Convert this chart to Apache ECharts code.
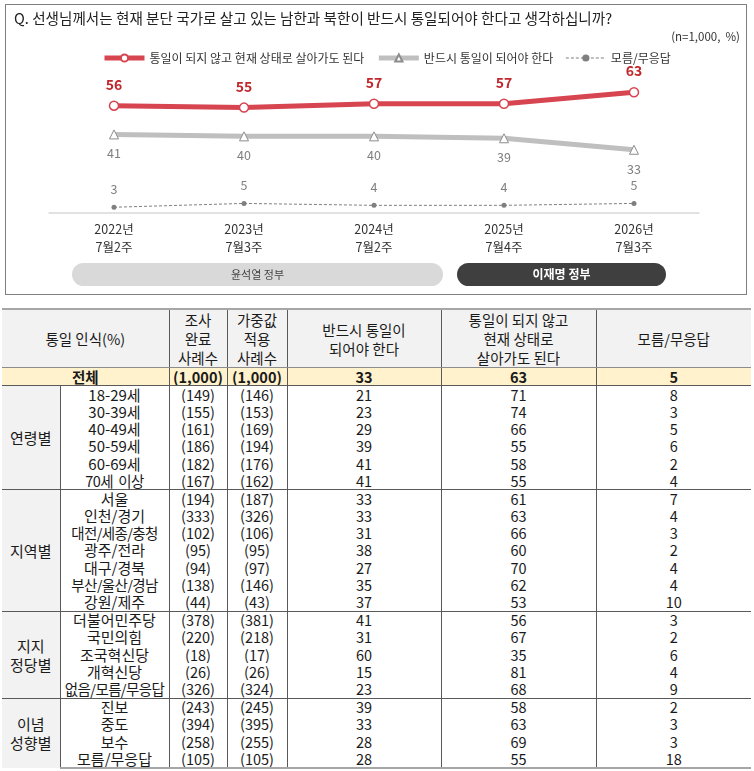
<!DOCTYPE html>
<html>
<head>
<meta charset="utf-8">
<script src="https://cdn.jsdelivr.net/npm/echarts@6/dist/echarts.min.js"></script>
<style>
html,body{margin:0;padding:0;background:#fff;}
body{width:754px;height:771px;position:relative;overflow:hidden;font-family:"Noto Sans CJK KR","Noto Sans",sans-serif;}
#box{position:absolute;left:5px;top:4px;width:742px;height:291px;border:1.5px solid #7f7f7f;box-sizing:border-box;}
#chart{position:absolute;left:0;top:0;width:754px;height:300px;}
#tbl{position:absolute;left:2px;top:308px;width:749px;border-collapse:collapse;table-layout:fixed;color:#1a1a1a;font-size:14.5px;}
#tbl td{padding:0;text-align:center;vertical-align:middle;white-space:nowrap;overflow:hidden;line-height:16px;height:17.2px;border-left:1px solid #595959;}
#tbl td.first{border-left:none;}
#tbl td.lbl{font-size:15px;}
#tbl td.lbl.tight{letter-spacing:-0.6px;font-size:14.5px;}
#tbl tr.head td{background:#f2f2f2;height:56px;line-height:19px;border-top:2px solid #a6a6a6;border-bottom:1px solid #8c8c8c;font-size:14.5px;}
#tbl tr.total td{background:#fff2cc;font-weight:bold;border-bottom:1px solid #595959;}
#tbl td.grp{background:#f2f2f2;line-height:19px;font-size:15px;}
#tbl tr.sep td{border-top:1px solid #595959;}
#tbl tr.last td{border-bottom:2px solid #a6a6a6;}
</style>
</head>
<body>
<div id="box"></div>
<div id="chart"></div>
<table id="tbl"><colgroup>
<col style="width:58px"><col style="width:109px"><col style="width:58px"><col style="width:60px"><col style="width:154px"><col style="width:155px"><col style="width:155px">
</colgroup><tbody id="tb"></tbody></table>
<script>
// ---- Trend chart data ----
const periods = ['2022년\n7월2주', '2023년\n7월3주', '2024년\n7월2주', '2025년\n7월4주', '2026년\n7월3주'];
const statusQuoTrend = [56, 55, 57, 57, 63];
const mustUnifyTrend = [41, 40, 40, 39, 33];
const dontKnowTrend = [3, 5, 4, 4, 5];
const seriesNames = ['통일이 되지 않고 현재 상태로 살아가도 된다', '반드시 통일이 되어야 한다', '모름/무응답'];
const governments = ['윤석열 정부', '이재명 정부'];

// ---- Table data ----
const headerLabels = ['통일 인식(%)', '조사<br>완료<br>사례수', '가중값<br>적용<br>사례수', '반드시 통일이<br>되어야 한다', '통일이 되지 않고<br>현재 상태로<br>살아가도 된다', '모름/무응답'];
const totalRow = ['전체', '(1,000)', '(1,000)', 33, 63, 5];
const groupNames = ['연령별', '지역별', '지지<br>정당별', '이념<br>성향별'];
const groupSizes = [6, 7, 5, 4];
const rowLabels = ['18-29세', '30-39세', '40-49세', '50-59세', '60-69세', '70세&nbsp;&nbsp;이상',
  '서울', '인천/경기', '대전/세종/충청', '광주/전라', '대구/경북', '부산/울산/경남', '강원/제주',
  '더불어민주당', '국민의힘', '조국혁신당', '개혁신당', '없음/모름/무응답',
  '진보', '중도', '보수', '모름/무응답'];
const completedN = [149, 155, 161, 186, 182, 167, 194, 333, 102, 95, 94, 138, 44, 378, 220, 18, 26, 326, 243, 394, 258, 105];
const weightedN = [146, 153, 169, 194, 176, 162, 187, 326, 106, 95, 97, 146, 43, 381, 218, 17, 26, 324, 245, 395, 255, 105];
const mustUnify = [21, 23, 29, 39, 41, 41, 33, 33, 31, 38, 27, 35, 37, 41, 31, 60, 15, 23, 39, 33, 28, 28];
const statusQuo = [71, 74, 66, 55, 58, 55, 61, 63, 66, 60, 70, 62, 53, 56, 67, 35, 81, 68, 58, 63, 69, 55];
const dontKnow = [8, 3, 5, 6, 2, 4, 7, 4, 3, 2, 4, 4, 10, 3, 2, 6, 4, 9, 2, 3, 3, 18];

// ---- Build table ----
(function(){
  let h = '<tr class="head"><td class="first" colspan="2">' + headerLabels[0] + '</td>';
  for (let i = 1; i < headerLabels.length; i++) h += '<td>' + headerLabels[i] + '</td>';
  h += '</tr>';
  h += '<tr class="total"><td class="first" colspan="2">' + totalRow[0] + '</td>';
  for (let i = 1; i < totalRow.length; i++) h += '<td>' + totalRow[i] + '</td>';
  h += '</tr>';
  let idx = 0;
  groupSizes.forEach((sz, g) => {
    for (let k = 0; k < sz; k++) {
      let cls = [];
      if (k === 0 && g > 0) cls.push('sep');
      if (g === groupSizes.length - 1 && k === sz - 1) cls.push('last');
      h += '<tr class="' + cls.join(' ') + '">';
      if (k === 0) h += '<td class="first grp" rowspan="' + sz + '">' + groupNames[g] + '</td>';
      const tight = rowLabels[idx].length > 7 ? ' tight' : '';
      h += '<td class="lbl' + tight + '">' + rowLabels[idx] + '</td>';
      h += '<td>(' + completedN[idx] + ')</td>';
      h += '<td>(' + weightedN[idx] + ')</td>';
      h += '<td>' + mustUnify[idx] + '</td>';
      h += '<td>' + statusQuo[idx] + '</td>';
      h += '<td>' + dontKnow[idx] + '</td>';
      h += '</tr>';
      idx++;
    }
  });
  document.getElementById('tb').innerHTML = h;
})();

// ---- Chart ----
const chart = echarts.init(document.getElementById('chart'), null, {renderer: 'canvas'});
const font = '"Noto Sans CJK KR","Noto Sans",sans-serif';
chart.setOption({
  animation: false,
  textStyle: {fontFamily: font},
  title: {
    text: 'Q. 선생님께서는 현재 분단 국가로 살고 있는 남한과 북한이 반드시 통일되어야 한다고 생각하십니까?',
    left: 9, top: 6,
    textStyle: {fontSize: 14.6, fontWeight: 'normal', color: '#222', fontFamily: font}
  },
  legend: {
    left: 97, top: 47,
    itemWidth: 40, itemHeight: 9, itemGap: 12,
    lineStyle: {width: 'inherit'},
    textStyle: {fontSize: 12, color: '#333', fontFamily: font},
    data: seriesNames
  },
  grid: {left: 49, width: 650, top: 59.7, bottom: 87},
  xAxis: {
    type: 'category',
    data: periods,
    boundaryGap: true,
    axisLine: {lineStyle: {color: '#d9d9d9', width: 1.5}},
    axisTick: {show: false},
    axisLabel: {color: '#333', fontSize: 12.5, lineHeight: 18, margin: 7, fontFamily: font}
  },
  yAxis: {type: 'value', min: 0, max: 80, show: false, splitLine: {show: false}},
  graphic: [
    {type: 'text', right: 14, top: 31, style: {text: '(n=1,000,  %)', fontSize: 11.5, fill: '#333', fontFamily: font}},
    {type: 'rect', shape: {x: 72, y: 263, width: 371, height: 23, r: 11.5}, style: {fill: '#d9d9d9'}},
    {type: 'text', x: 257.5, y: 274.5, style: {text: governments[0], fontSize: 11, fill: '#444', align: 'center', verticalAlign: 'middle', fontFamily: font}},
    {type: 'rect', shape: {x: 457, y: 263, width: 209, height: 23, r: 11.5}, style: {fill: '#3f3f3f'}},
    {type: 'text', x: 561.5, y: 274.5, style: {text: governments[1], fontSize: 12, fontWeight: 'bold', fill: '#fff', align: 'center', verticalAlign: 'middle', fontFamily: font}}
  ],
  series: [
    {
      name: seriesNames[0], type: 'line', data: statusQuoTrend,
      symbol: 'circle', symbolSize: 9,
      lineStyle: {color: '#d64550', width: 5},
      itemStyle: {color: '#fff', borderColor: '#d64550', borderWidth: 1.5},
      label: {show: true, position: 'top', distance: 9, fontSize: 14, fontWeight: 'bold', color: '#c0282d', fontFamily: font},
      z: 3
    },
    {
      name: seriesNames[1], type: 'line', data: mustUnifyTrend,
      symbol: 'triangle', symbolSize: 9,
      lineStyle: {color: '#bfbfbf', width: 5},
      itemStyle: {color: '#fff', borderColor: '#8c8c8c', borderWidth: 1},
      label: {show: true, position: 'bottom', distance: 8, fontSize: 12.5, color: '#7f7f7f', fontFamily: font},
      z: 2
    },
    {
      name: seriesNames[2], type: 'line', data: dontKnowTrend,
      symbol: 'circle', symbolSize: 5,
      lineStyle: {color: '#7f7f7f', width: 1, type: [3, 2]},
      itemStyle: {color: '#7f7f7f'},
      label: {show: true, position: 'top', distance: 9, fontSize: 12.5, color: '#7f7f7f', fontFamily: font},
      z: 1
    }
  ]
});
</script>
</body>
</html>
